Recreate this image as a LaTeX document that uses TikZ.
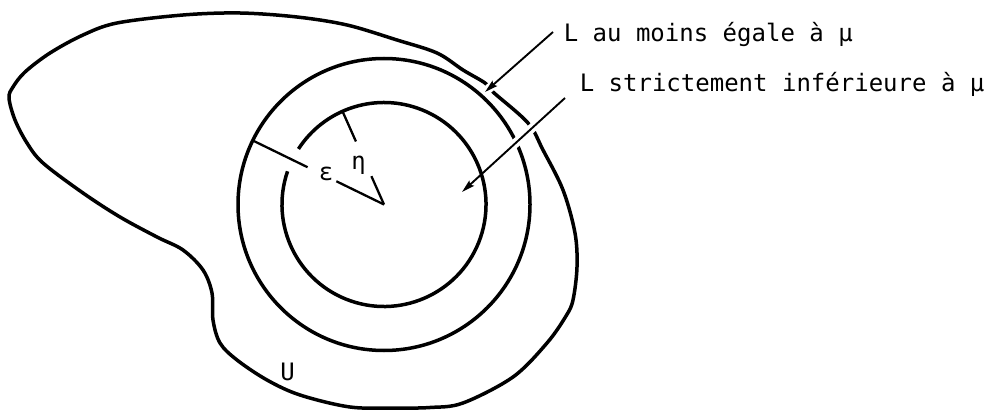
\documentclass[tikz,border=0pt]{standalone}
\usepackage{fontspec}
\setmonofont{DejaVu Sans Mono}
\usetikzlibrary{arrows.meta,calc}

\begin{document}
\begin{tikzpicture}[x=1pt,y=1pt,
            curve/.style={line width=3.5pt,line join=round},
            spoke/.style={line width=2.3pt},
            arrow/.style={-{Stealth[length=13pt,width=7pt,inset=2pt]},line width=1.9pt},
            gap/.style={white,line width=9pt},
            label/.style={font=\ttfamily\fontsize{24}{28}\selectfont,inner sep=0pt}]
            \useasboundingbox (0,0) rectangle (985,410);
            \coordinate (c) at (384,205.5);
            % the set U
            \draw[curve] plot[smooth cycle,tension=0.55] coordinates {
                (240,397) (297,393) (347,385) (397,370) (437,357) (463,340)
                (485,327) (493,318) (528,287) (543,260) (563,220) (575,177)
                (577,143) (573,110) (566,94) (547,67) (513,33) (463,7)
                (430,2.5) (395,2) (350,3) (300,15) (267,30) (237,50)
                (220,67) (213,90) (212,117) (203,140) (183,160) (157,173)
                (120,193) (83,217) (43,247) (27,267) (15,290) (9,312)
                (13,323) (25,338) (50,357) (83,375) (117,387) (183,395)};
            % outer and inner circles
            \draw[curve] (c) circle[radius=146];
            \draw[curve] ($(c)+(161:102)$) arc[start angle=161,end angle=507,radius=102];
            % radii epsilon and eta
            \draw[spoke] (c) -- ($(c)+(154:53)$);
            \draw[spoke] ($(c)+(154:85)$) -- ($(c)+(154:146)$);
            \draw[spoke] (c) -- ($(c)+(114:31)$);
            \draw[spoke] ($(c)+(114:69)$) -- ($(c)+(114:102)$);
            \node[label] (eps) at (326,236.5) {ε};
            \node[label] (eta) at (358.5,245) {η};
            \node[label] (setU) at (287.5,38) {U};
            % labels with arrows
            \node[label,anchor=base west] (geq) at (563.6,368) {L au moins égale à μ};
            \node[label,anchor=base west] (less) at (579.6,318) {L strictement inférieure à μ};
            \coordinate (s1) at (553,378);
            \coordinate (t1) at (485,318);
            \coordinate (s2) at (565,312);
            \coordinate (t2) at (462,218);
            \draw[gap] ($(s1)!0.8!(t1)$) -- (t1);
            \draw[gap] ($(s2)!0.25!(t2)$) -- ($(s2)!0.62!(t2)$);
            \draw[arrow] (s1) -- (t1);
            \draw[arrow] (s2) -- (t2);
\end{tikzpicture}
\end{document}
